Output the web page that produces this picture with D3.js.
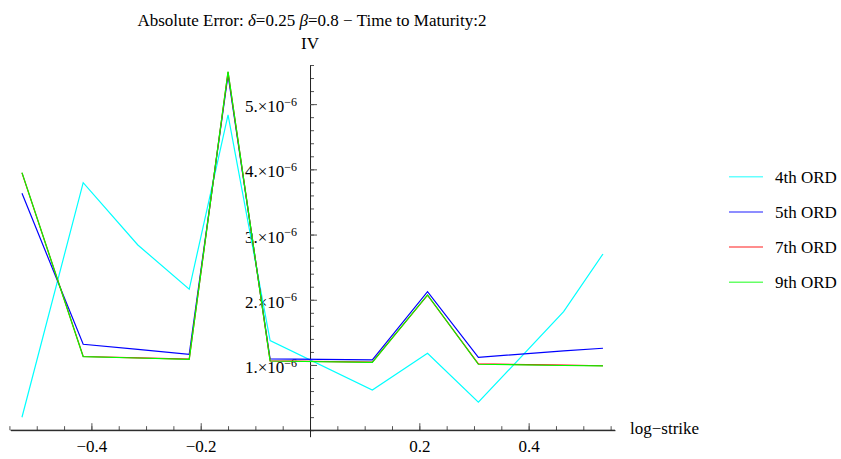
<!DOCTYPE html>
<html>
<head>
<meta charset="utf-8">
<script src="https://cdn.jsdelivr.net/npm/d3@7"></script>
<style>
  body { margin: 0; background: #fff; }
  svg text { font-family: "Liberation Serif", "DejaVu Serif", serif; }
  .tick line { stroke: #555; }
  .domain { stroke: #222; }
</style>
</head>
<body>
<svg id="chart" width="841" height="459"></svg>
<script>

// log-strike grid
const logStrike = [-0.527, -0.415, -0.315, -0.221, -0.15, -0.073, 0.114, 0.215, 0.308, 0.464, 0.536]

// absolute error in IV
const ord4 = [0.198e-6, 3.796e-6, 2.84e-6, 2.161e-6, 4.834e-6, 1.373e-6, 0.617e-6, 1.179e-6, 0.428e-6, 1.817e-6, 2.702e-6]
const ord5 = [3.633e-6, 1.317e-6, 1.238e-6, 1.164e-6, 5.448e-6, 1.092e-6, 1.077e-6, 2.124e-6, 1.118e-6, 1.215e-6, 1.256e-6]
const ord7 = [3.945e-6, 1.13e-6, 1.11e-6, 1.09e-6, 5.49e-6, 1.063e-6, 1.043e-6, 2.07e-6, 1.016e-6, 0.997e-6, 0.988e-6]
const ord9 = [3.949e-6, 1.127e-6, 1.107e-6, 1.087e-6, 5.498e-6, 1.061e-6, 1.041e-6, 2.074e-6, 1.011e-6, 0.992e-6, 0.985e-6]

const seriesNames = ['4th ORD', '5th ORD', '7th ORD', '9th ORD']
const seriesColors = ['#00ffff', '#0000ff', '#ff0000', '#00ff00']

const xMajor = [-0.4, -0.2, 0.2, 0.4]
const yMajor = [1, 2, 3, 4, 5]

const svg = d3.select('#chart')

const xScale = d3.scaleLinear()
  .domain([-0.548, 0.558])
  .range([10.5, 615])
const yScale = d3.scaleLinear()
  .domain([-0.1e-6, 5.6e-6])
  .range([436.7, 65])

const x0 = xScale(0), y0 = yScale(0)

// minor ticks x
svg.append('g')
  .attr('transform', `translate(0, ${y0})`)
  .call(d3.axisBottom(xScale)
    .tickValues(d3.range(-11, 12).map(d => d * 0.05))
    .tickSize(-4)
    .tickFormat(''))
  .call(g => g.select('.domain').remove())

// major ticks x + labels
svg.append('g')
  .attr('transform', `translate(0, ${y0})`)
  .attr('font-family', null)
  .attr('font-size', 17)
  .call(d3.axisBottom(xScale)
    .tickValues(xMajor)
    .tickSize(-7)
    .tickSizeOuter(0)
    .tickPadding(10)
    .tickFormat(d3.format('.1f')))
  .call(g => g.attr('font-family', null).attr('font-size', 17))
  .call(g => g.selectAll('text').attr('fill', '#000'))

// minor ticks y
svg.append('g')
  .attr('transform', `translate(${x0}, 0)`)
  .call(d3.axisLeft(yScale)
    .tickValues(d3.range(0, 29).map(d => d * 0.2e-6))
    .tickSize(-4)
    .tickFormat(''))
  .call(g => g.select('.domain').remove())

// major ticks y + labels
const yAxis = svg.append('g')
  .attr('transform', `translate(${x0}, 0)`)
  .call(d3.axisLeft(yScale)
    .tickValues(yMajor.map(d => d * 1e-6))
    .tickSize(-7)
    .tickSizeOuter(0)
    .tickPadding(13)
    .tickFormat(''))
  .call(g => g.attr('font-family', null).attr('font-size', 17))

yAxis.selectAll('.tick text')
  .attr('fill', '#000')
  .attr('dy', '0.45em')
  .each(function (d) {
    const t = d3.select(this)
    t.append('tspan').text(Math.round(d * 1e6) + '.\u00d710')
    t.append('tspan').attr('dy', '-0.55em').style('font-size', '12px').text('\u22126')
  })

// x axis line (after y ticks so it sits on top)
svg.append('line')
  .attr('x1', xScale.range()[0]).attr('x2', xScale.range()[1])
  .attr('y1', y0).attr('y2', y0)
  .attr('stroke', '#222')

// lines
const allSeries = [ord4, ord5, ord7, ord9]
const line = d3.line()
  .x((d, i) => xScale(logStrike[i]))
  .y(d => yScale(d))

allSeries.forEach((s, k) => {
  svg.append('path')
    .datum(s)
    .attr('fill', 'none')
    .attr('stroke', seriesColors[k])
    .attr('stroke-width', 1.2)
    .attr('d', line)
})

// axis labels
svg.append('text')
  .attr('x', 630)
  .attr('y', 434)
  .style('font-size', '17px')
  .text('log\u2212strike')

svg.append('text')
  .attr('x', x0)
  .attr('y', 49)
  .attr('text-anchor', 'middle')
  .style('font-size', '17px')
  .text('IV')

// title
const title = svg.append('text')
  .attr('x', 312)
  .attr('y', 26)
  .attr('text-anchor', 'middle')
  .style('font-size', '17px')
title.append('tspan').text('Absolute Error: ')
title.append('tspan').style('font-style', 'italic').text('\u03b4')
title.append('tspan').text('=0.25 ')
title.append('tspan').style('font-style', 'italic').text('\u03b2')
title.append('tspan').text('=0.8 \u2212 Time to Maturity:2')

// legend
const legend = svg.append('g')
  .selectAll('g')
  .data(seriesNames)
  .enter()
  .append('g')
  .attr('transform', (d, i) => `translate(729, ${176.7 + i * 35.2})`)

legend.append('line')
  .attr('x1', 0).attr('x2', 34)
  .attr('stroke', (d, i) => seriesColors[i])
  .attr('stroke-opacity', 0.6)
  .attr('stroke-width', 1.5)

legend.append('text')
  .attr('x', 46)
  .attr('y', 6)
  .style('font-size', '17px')
  .text(d => d)

</script>
</body>
</html>
